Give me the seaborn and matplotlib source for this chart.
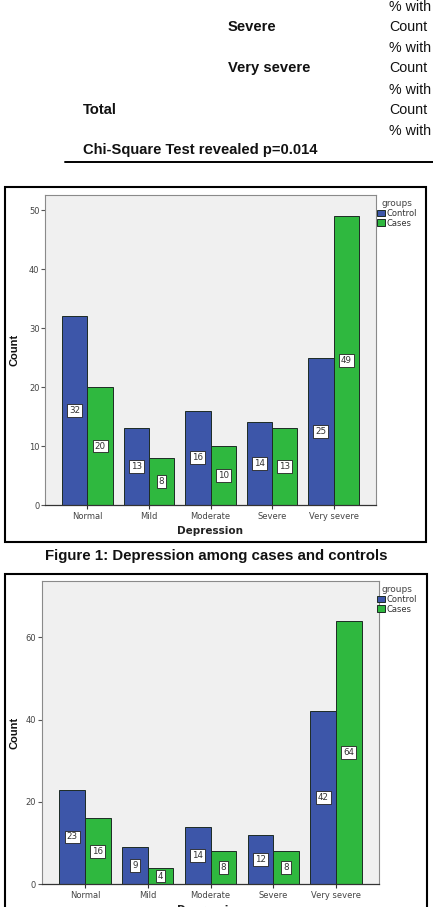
import matplotlib
matplotlib.use("Agg")
import matplotlib.pyplot as plt
import seaborn as sns
import pandas as pd
from matplotlib.patches import Rectangle
from matplotlib.lines import Line2D

# ---------------- data ----------------
categories = ["Normal", "Mild", "Moderate", "Severe", "Very severe"]
groups = ["Control", "Cases"]
fig1_control = [32, 13, 16, 14, 25]
fig1_cases = [20, 8, 10, 13, 49]
fig2_control = [23, 9, 14, 12, 42]
fig2_cases = [16, 4, 8, 8, 64]
fig1_yticks = [0, 10, 20, 30, 40, 50]
fig2_yticks = [0, 20, 40, 60]
caption1 = "Figure 1: Depression among cases and controls"
chi_text = "Chi-Square Test revealed p=0.014"
table_row_labels = ["Severe", "Very severe", "Total"]
table_stat_labels = ["% with", "Count", "% with", "Count", "% with", "Count", "% with"]

BLUE = "#3d56a9"
GREEN = "#2fb83f"

W, H = 433, 907
sns.set_theme(style="white")
plt.rcParams['font.family'] = ['DejaVu Sans']

fig = plt.figure(figsize=(W / 100, H / 100), dpi=100)
fig.patch.set_facecolor('white')


def fx(px):
    return px / W


def fy(py):
    return 1 - py / H


ARIAL = ['Liberation Sans', 'DejaVu Sans']

# ---------------- table fragment ----------------
stat_y = [7, 27, 48, 68, 90, 110, 131]
for lab, y in zip(table_stat_labels, stat_y):
    fig.text(fx(389), fy(y), lab, ha='left', va='center', fontsize=10.3,
             family=ARIAL, color='#111')
row_pos = [(228, 27), (228, 68), (83, 110)]
for lab, (x, y) in zip(table_row_labels, row_pos):
    fig.text(fx(x), fy(y), lab, ha='left', va='center', fontsize=10.6,
             fontweight='bold', family=ARIAL, color='#111')
fig.text(fx(83), fy(150), chi_text, ha='left', va='center', fontsize=10.6,
         fontweight='bold', family=ARIAL, color='#111')
fig.add_artist(Line2D([fx(65), 1.0], [fy(161.5), fy(161.5)],
                      transform=fig.transFigure, color='black', lw=1.4))


# ---------------- charts ----------------
def draw_chart(box, control, cases, ymax, yticks, frame, legend_top, xlabel_y, ylabel_y):
    l, t, r, b = box
    ax = fig.add_axes([fx(l), fy(b), (r - l) / W, (b - t) / H])
    df = pd.DataFrame({
        'Depression': categories * 2,
        'groups': [groups[0]] * len(categories) + [groups[1]] * len(categories),
        'Count': list(control) + list(cases),
    })
    sns.barplot(data=df, x='Depression', y='Count', hue='groups',
                order=categories, hue_order=groups, palette=[BLUE, GREEN],
                width=0.82, saturation=1, edgecolor='#1d2b24', linewidth=0.7,
                ax=ax)
    ax.set_xlim(-0.69, len(categories) - 1 + 0.69)
    ax.set_ylim(0, ymax)
    ax.set_yticks(yticks)
    ax.set_facecolor('#f0f0f0')
    for side in ['left', 'top', 'right']:
        ax.spines[side].set_color('#8a8a8a')
        ax.spines[side].set_linewidth(0.8)
    ax.spines['bottom'].set_color('#333333')
    ax.spines['bottom'].set_linewidth(0.9)
    ax.tick_params(axis='y', left=True, length=3, width=0.8, color='#555',
                   labelsize=6, labelcolor='#444', pad=1)
    ax.tick_params(axis='x', bottom=True, length=3, width=0.8, color='#333',
                   labelsize=6, labelcolor='#444', pad=2)
    ax.set_xlabel('')
    ax.set_ylabel('')

    # value labels in boxes at half the bar height
    for cont in ax.containers:
        for bar in cont:
            h = bar.get_height()
            ax.text(bar.get_x() + bar.get_width() / 2, h / 2, f"{int(round(h))}",
                    ha='center', va='center', fontsize=6.3, color='#333',
                    bbox=dict(boxstyle='square,pad=0.22', fc='white', ec='#222', lw=0.6))

    sns.move_legend(ax, 'upper left', bbox_to_anchor=(fx(377), fy(legend_top)),
                    bbox_transform=fig.transFigure, frameon=False, title='groups',
                    fontsize=6, title_fontsize=6.5, handlelength=0.9, handleheight=0.9,
                    handletextpad=0.2, labelspacing=0.1, borderpad=0, borderaxespad=0)
    leg = ax.get_legend()
    leg.get_title().set_color('#444')
    for txt in leg.get_texts():
        txt.set_color('#333')

    fig.text(fx((l + r) / 2), fy(xlabel_y), 'Depression', ha='center', va='center',
             fontsize=7.5, fontweight='bold', color='#222')
    fig.text(fx(15), fy(ylabel_y), 'Count', ha='center', va='center', rotation=90,
             fontsize=8, fontweight='bold', family=ARIAL, color='#111')

    fl, ft, fr, fb = frame
    fig.add_artist(Rectangle((fx(fl), fy(fb)), (fr - fl) / W, (fb - ft) / H,
                             transform=fig.transFigure, fill=False, ec='black', lw=1.5))
    return ax


draw_chart((45, 195, 376, 505), fig1_control, fig1_cases, 52.6, fig1_yticks,
           (5, 187, 426, 542), 199, 531, 350)
fig.text(fx(216), fy(556), caption1, ha='center', va='center', fontsize=10.8,
         fontweight='bold', family=ARIAL, color='#111')
draw_chart((41.7, 581, 379.3, 884.3), fig2_control, fig2_cases, 73.7, fig2_yticks,
           (5, 574, 427, 925), 585, 910, 733)

fig.savefig('out.png', dpi=100)
